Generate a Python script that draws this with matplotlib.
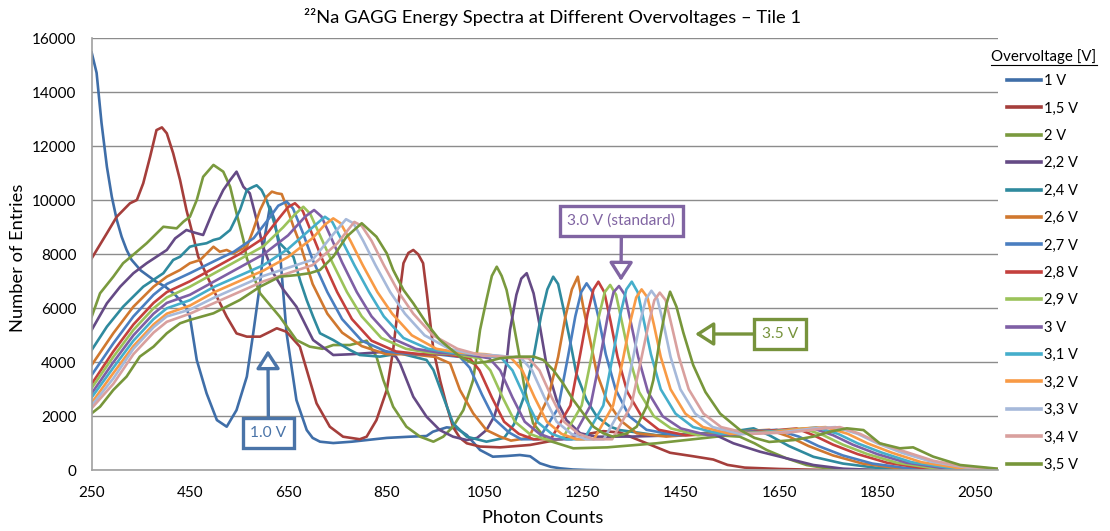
import matplotlib.pyplot as plt
from matplotlib.lines import Line2D

plt.rcParams['font.family'] = ['Lato', 'DejaVu Sans']

# ---- data (photon counts, number of entries) ----
x_10 = [250, 260, 270, 281, 291, 301, 311, 321, 331, 350, 380, 400, 420, 440, 450, 464, 484, 505, 525, 545,
        566, 579, 593, 603, 613, 622, 633, 647, 667, 688, 700, 715, 742, 780, 810, 851, 898, 932, 945, 973,
        993, 1014, 1041, 1067, 1095, 1122, 1143, 1163, 1185, 1204, 1230, 1258, 1300, 1400, 1530]
y_10 = [15470, 14720, 12870, 11240, 10130, 9280, 8650, 8170, 7800, 7400, 7000, 6800, 6500, 6100, 5690, 4085,
        2850, 1860, 1615, 2230, 3470, 5075, 6925, 8700, 9760, 9300, 8160, 5070, 2600, 1490, 1200, 1060, 1010,
        1060, 1120, 1200, 1245, 1270, 1430, 1590, 1555, 1307, 752, 504, 530, 567, 520, 260, 130, 74, 30, 11,
        0, 0, 0]

x_15 = [250, 281, 301, 328, 342, 355, 369, 382, 393, 403, 416, 430, 443, 457, 467, 498, 525, 545, 566, 593,
        613, 627, 647, 674, 688, 708, 735, 762, 796, 810, 830, 851, 864, 878, 885, 895, 905, 915, 925, 933,
        946, 960, 973, 986, 1000, 1014, 1041, 1082, 1143, 1190, 1231, 1292, 1326, 1394, 1428, 1475, 1516,
        1545, 1580, 1650, 1750, 1850, 2095]
y_15 = [7850, 8780, 9390, 9890, 10010, 10630, 11615, 12600, 12700, 12480, 11740, 10750, 9640, 8650, 7910,
        6680, 5690, 5070, 4950, 4950, 5130, 5260, 5130, 4580, 3715, 2480, 1615, 1245, 1150, 1245, 1860, 2975,
        4455, 6680, 7670, 8050, 8160, 8000, 7670, 6500, 4455, 3300, 2400, 1600, 1200, 1000, 880, 850, 940,
        1100, 1250, 1450, 1400, 900, 650, 520, 400, 200, 100, 50, 10, 0, 0]

x_20 = [250, 267, 294, 314, 328, 362, 396, 423, 437, 450, 464, 477, 498, 518, 532, 545, 559, 566, 593, 633,
        667, 694, 720, 742, 776, 810, 830, 844, 864, 891, 919, 946, 966, 986, 1007, 1027, 1041, 1054, 1065,
        1075, 1085, 1095, 1109, 1119, 1132, 1149, 1177, 1231, 1300, 1400, 1500, 1540, 1570, 1600, 1625,
        1665, 1706, 1747, 1800, 1900, 2095]
y_20 = [5690, 6555, 7170, 7670, 7880, 8410, 9020, 8960, 9210, 9390, 10010, 10870, 11310, 11060, 10500, 9520,
        8530, 7850, 6555, 5690, 4825, 4580, 4500, 4640, 4640, 4800, 4210, 3345, 2355, 1615, 1245, 1060, 1245,
        1615, 2230, 3345, 5200, 6310, 7200, 7540, 7200, 6680, 5445, 4455, 3000, 1740, 1120, 815, 850, 1000,
        1200, 1280, 1245, 1000, 750, 445, 196, 74, 20, 0, 0]

x_22 = [250, 281, 308, 335, 362, 403, 420, 443, 460, 477, 498, 518, 532, 545, 559, 572, 586, 599, 620, 640,
        667, 694, 701, 729, 742, 780, 820, 850, 870, 878, 905, 932, 959, 986, 1014, 1035, 1054, 1070, 1082,
        1095, 1102, 1115, 1125, 1136, 1150, 1163, 1177, 1197, 1217, 1245, 1279, 1350, 1450, 1510, 1557,
        1611, 1665, 1720, 1780, 1850, 1950, 2095]
y_22 = [5200, 6185, 6800, 7300, 7670, 8160, 8590, 8900, 8800, 8715, 9640, 10380, 10750, 11060, 10500, 10260,
        9270, 8280, 7300, 6700, 6060, 5075, 4825, 4455, 4270, 4300, 4350, 4400, 4200, 3960, 2725, 1985, 1490,
        1245, 1120, 1200, 1490, 2000, 2725, 4000, 5200, 6500, 7100, 7300, 6555, 5320, 3840, 2600, 1860, 1370,
        1245, 1250, 1300, 1400, 1000, 690, 445, 196, 60, 10, 0, 0]

x_24 = [250, 281, 314, 355, 396, 416, 430, 450, 464, 484, 498, 511, 532, 552, 566, 579, 586, 596, 606, 620,
        633, 661, 675, 688, 701, 715, 742, 776, 796, 837, 878, 932, 946, 966, 986, 1014, 1054, 1090, 1110,
        1130, 1150, 1165, 1178, 1190, 1200, 1210, 1224, 1237, 1258, 1279, 1306, 1326, 1400, 1480, 1560,
        1598, 1630, 1670, 1720, 1780, 1850, 1920, 2000, 2095]
y_24 = [4455, 5320, 6060, 6800, 7300, 7790, 7910, 8280, 8345, 8410, 8530, 8590, 8900, 9640, 10380, 10500,
        10555, 10380, 10010, 9270, 8410, 7900, 7000, 6300, 5690, 5075, 4825, 4455, 4270, 4210, 4330, 4085,
        3715, 2725, 1740, 1245, 1060, 1200, 1700, 2700, 4200, 5700, 6700, 7170, 6900, 6060, 4825, 3590, 2600,
        1985, 1615, 1490, 1300, 1350, 1450, 1555, 1300, 900, 500, 250, 90, 20, 0, 0]

x_26 = [250, 294, 335, 376, 403, 430, 450, 471, 498, 511, 525, 539, 552, 566, 579, 593, 606, 617, 627, 637,
        647, 661, 674, 700, 730, 760, 800, 850, 900, 950, 980, 1000, 1027, 1054, 1082, 1104, 1140, 1180,
        1200, 1215, 1228, 1240, 1251, 1265, 1279, 1299, 1326, 1360, 1420, 1500, 1580, 1630, 1670, 1710,
        1760, 1820, 1890, 1960, 2095]
y_26 = [3900, 5075, 6060, 6800, 7170, 7420, 7670, 7790, 8280, 8095, 8160, 8035, 8160, 8280, 8900, 9640,
        10130, 10320, 10260, 10230, 9760, 9020, 8410, 6900, 5800, 5100, 4600, 4300, 4300, 4200, 3960, 2975,
        2110, 1490, 1245, 1100, 1200, 2700, 4200, 5700, 6700, 7170, 6060, 4825, 3590, 2600, 1860, 1370, 1250,
        1350, 1450, 1500, 1250, 900, 550, 250, 80, 20, 0]

x_27 = [250, 294, 335, 376, 403, 450, 500, 540, 580, 610, 630, 647, 660, 680, 700, 730, 760, 800, 850, 900,
        950, 1000, 1020, 1045, 1070, 1100, 1125, 1160, 1200, 1220, 1235, 1247, 1258, 1270, 1283, 1297, 1317,
        1345, 1380, 1440, 1520, 1600, 1645, 1690, 1730, 1780, 1840, 1910, 1980, 2095]
y_27 = [3530, 4700, 5700, 6500, 6900, 7300, 7750, 8100, 8600, 9300, 9800, 9950, 9700, 8800, 7800, 6600,
        5600, 4800, 4400, 4300, 4300, 4200, 3800, 2800, 1900, 1400, 1150, 1150, 2300, 4200, 5700, 6600, 6925,
        6600, 5600, 4300, 3000, 2000, 1500, 1300, 1350, 1450, 1500, 1250, 900, 550, 250, 80, 20, 0]

x_28 = [250, 294, 335, 376, 403, 450, 500, 550, 600, 630, 650, 664, 680, 700, 720, 750, 780, 820, 870, 920,
        970, 1020, 1040, 1065, 1090, 1120, 1150, 1185, 1225, 1245, 1260, 1272, 1282, 1294, 1307, 1321, 1341,
        1370, 1405, 1460, 1540, 1620, 1686, 1720, 1760, 1810, 1870, 1940, 2010, 2095]
y_28 = [3200, 4400, 5400, 6200, 6600, 7000, 7500, 8000, 8600, 9300, 9750, 9890, 9600, 8700, 7800, 6600,
        5600, 4800, 4400, 4300, 4300, 4150, 3700, 2700, 1800, 1350, 1150, 1150, 2400, 4300, 5800, 6700, 6985,
        6600, 5500, 4200, 2900, 2000, 1500, 1300, 1350, 1450, 1550, 1300, 950, 600, 280, 90, 25, 0]

x_29 = [250, 294, 335, 376, 403, 450, 500, 550, 600, 640, 665, 681, 695, 715, 740, 770, 800, 840, 890, 940,
        990, 1040, 1062, 1087, 1112, 1142, 1172, 1208, 1248, 1268, 1283, 1295, 1306, 1318, 1331, 1345, 1365,
        1395, 1430, 1485, 1560, 1640, 1700, 1740, 1780, 1830, 1890, 1960, 2030, 2095]
y_29 = [3050, 4200, 5200, 6000, 6400, 6800, 7300, 7800, 8300, 9000, 9500, 9760, 9500, 8700, 7700, 6600,
        5700, 4900, 4500, 4350, 4300, 4150, 3700, 2700, 1800, 1350, 1150, 1150, 2400, 4200, 5700, 6600, 6865,
        6500, 5400, 4200, 2900, 2000, 1550, 1300, 1350, 1450, 1550, 1300, 950, 600, 280, 90, 25, 0]

x_30 = [250, 294, 335, 376, 403, 450, 500, 550, 600, 650, 685, 703, 718, 738, 760, 790, 820, 860, 910, 960,
        1010, 1060, 1082, 1107, 1132, 1162, 1192, 1228, 1266, 1286, 1301, 1313, 1324, 1336, 1349, 1363, 1383,
        1413, 1450, 1505, 1580, 1660, 1720, 1760, 1800, 1850, 1910, 1980, 2050, 2095]
y_30 = [2850, 4000, 5000, 5800, 6200, 6500, 7000, 7500, 8000, 8700, 9400, 9640, 9400, 8600, 7700, 6600,
        5700, 4900, 4500, 4350, 4300, 4150, 3700, 2700, 1800, 1350, 1150, 1150, 2400, 4200, 5700, 6600, 6825,
        6500, 5400, 4200, 2900, 2000, 1550, 1300, 1350, 1450, 1550, 1300, 950, 600, 280, 90, 25, 5]

x_31 = [250, 294, 335, 376, 403, 450, 500, 550, 600, 650, 700, 725, 740, 760, 785, 815, 845, 885, 935, 985,
        1035, 1085, 1107, 1132, 1157, 1187, 1217, 1253, 1292, 1312, 1327, 1339, 1350, 1362, 1375, 1389, 1409,
        1439, 1475, 1530, 1610, 1680, 1726, 1770, 1810, 1860, 1920, 1990, 2060, 2095]
y_31 = [2700, 3800, 4800, 5600, 6000, 6300, 6800, 7200, 7600, 8200, 9000, 9390, 9200, 8500, 7600, 6600,
        5700, 4900, 4500, 4350, 4300, 4150, 3700, 2700, 1800, 1350, 1150, 1150, 2400, 4300, 5800, 6700, 6985,
        6600, 5500, 4300, 3000, 2100, 1600, 1350, 1400, 1500, 1590, 1350, 1000, 650, 300, 110, 30, 10]

x_32 = [250, 294, 335, 376, 403, 450, 500, 550, 600, 650, 700, 725, 742, 757, 777, 802, 832, 862, 902, 952,
        1002, 1052, 1105, 1127, 1152, 1177, 1207, 1237, 1273, 1312, 1332, 1347, 1359, 1370, 1382, 1395, 1409,
        1429, 1459, 1495, 1550, 1630, 1700, 1745, 1790, 1830, 1880, 1940, 2010, 2095]
y_32 = [2500, 3600, 4600, 5400, 5800, 6100, 6600, 7000, 7400, 7900, 8600, 9100, 9330, 9150, 8500, 7600,
        6600, 5800, 5000, 4500, 4350, 4300, 4150, 3700, 2700, 1800, 1350, 1150, 1150, 2400, 4100, 5500, 6400,
        6700, 6400, 5400, 4200, 3000, 2100, 1600, 1350, 1400, 1550, 1600, 1350, 1000, 650, 300, 100, 20]

x_33 = [250, 294, 335, 376, 403, 450, 500, 550, 600, 650, 700, 740, 768, 783, 803, 828, 858, 888, 928, 978,
        1028, 1078, 1125, 1147, 1172, 1197, 1227, 1257, 1293, 1332, 1352, 1367, 1379, 1390, 1402, 1415, 1429,
        1449, 1479, 1515, 1570, 1650, 1720, 1765, 1810, 1850, 1900, 1960, 2030, 2095]
y_33 = [2400, 3400, 4500, 5300, 5700, 5950, 6400, 6800, 7200, 7500, 7800, 8700, 9300, 9150, 8500, 7600,
        6600, 5800, 5000, 4500, 4300, 4250, 4150, 3700, 2700, 1800, 1350, 1150, 1150, 2400, 4100, 5500, 6350,
        6650, 6350, 5400, 4200, 3000, 2100, 1600, 1350, 1400, 1550, 1600, 1350, 1000, 650, 320, 110, 30]

x_34 = [250, 294, 335, 376, 403, 450, 500, 550, 600, 650, 700, 750, 785, 800, 820, 845, 875, 905, 945, 995,
        1045, 1095, 1140, 1162, 1187, 1212, 1242, 1272, 1310, 1349, 1369, 1384, 1396, 1407, 1419, 1432, 1446,
        1466, 1496, 1532, 1590, 1670, 1740, 1774, 1815, 1855, 1905, 1965, 2030, 2095]
y_34 = [2300, 3200, 4300, 5100, 5500, 5800, 6200, 6600, 7000, 7300, 7600, 8400, 9200, 9050, 8500, 7600,
        6600, 5800, 5000, 4500, 4250, 4200, 4150, 3700, 2700, 1800, 1350, 1150, 1150, 2400, 4100, 5400, 6300,
        6580, 6300, 5300, 4200, 3000, 2100, 1600, 1350, 1400, 1550, 1600, 1350, 1000, 700, 350, 130, 50]

x_35 = [250, 267, 294, 321, 348, 376, 403, 430, 450, 498, 552, 593, 633, 667, 694, 715, 742, 769, 800, 830,
        851, 864, 885, 905, 932, 959, 1000, 1027, 1054, 1082, 1115, 1150, 1170, 1190, 1210, 1231, 1251, 1272,
        1292, 1312, 1340, 1360, 1380, 1394, 1407, 1421, 1428, 1441, 1455, 1475, 1500, 1530, 1570, 1600, 1630,
        1680, 1720, 1754, 1788, 1822, 1855, 1896, 1923, 1964, 2019, 2095]
y_35 = [2110, 2355, 2975, 3470, 4210, 4580, 5075, 5445, 5570, 5815, 6310, 6800, 7170, 7230, 7300, 7420, 7910,
        8650, 9150, 8650, 8035, 7420, 6680, 6185, 5445, 4825, 4210, 3960, 4020, 4150, 4210, 4210, 4085, 3715,
        3220, 2600, 2110, 1615, 1370, 1245, 1370, 1615, 2355, 3345, 4825, 6185, 6615, 6060, 5100, 3900, 2900,
        2100, 1500, 1200, 1050, 1120, 1250, 1430, 1555, 1490, 1000, 815, 850, 505, 196, 60]

labels = ['1 V', '1,5 V', '2 V', '2,2 V', '2,4 V', '2,6 V', '2,7 V', '2,8 V',
          '2,9 V', '3 V', '3,1 V', '3,2 V', '3,3 V', '3,4 V', '3,5 V']
xs = [x_10, x_15, x_20, x_22, x_24, x_26, x_27, x_28, x_29, x_30, x_31, x_32, x_33, x_34, x_35]
ys = [y_10, y_15, y_20, y_22, y_24, y_26, y_27, y_28, y_29, y_30, y_31, y_32, y_33, y_34, y_35]
colors = ['#3F6EA8', '#A53E3B', '#7A9A3E', '#654A85', '#2F8A9E', '#D0782F', '#4A7EC0', '#C4403D',
          '#9BC35A', '#7F5FA5', '#45AECB', '#F89A45', '#A6B9DA', '#D9A09E', '#77963A']

fig = plt.figure(figsize=(11.1, 5.31), dpi=100)
ax = fig.add_axes([0.0826, 0.1143, 0.8161, 0.8136])

for x, y, c, lab in zip(xs, ys, colors, labels):
    ax.plot(x, y, color=c, lw=1.9, label=lab, solid_joinstyle='round')

ax.set_xlim(250, 2095)
ax.set_ylim(0, 16000)
ax.set_xticks(range(250, 2051, 200))
ax.set_yticks(range(0, 16001, 2000))
ax.grid(axis='y', color='#8C8C8C', lw=1)
ax.set_axisbelow(True)
for s in ['top', 'right']:
    ax.spines[s].set_visible(False)
for s in ['left', 'bottom']:
    ax.spines[s].set_color('#A0A0A0')
    ax.spines[s].set_linewidth(1.2)
ax.tick_params(length=0, labelsize=11, colors='#000000')
ax.tick_params(axis='y', pad=11)
ax.tick_params(axis='x', pad=11)

fig.text(552 / 1110, 1 - 17 / 531, '²²Na GAGG Energy Spectra at Different Overvoltages – Tile 1',
         ha='center', va='center', fontsize=13.2)
fig.text(543 / 1110, 1 - 518 / 531, 'Photon Counts', ha='center', va='center', fontsize=13.2)
fig.text(18 / 1110, 1 - 258 / 531, 'Number of Entries', ha='center', va='center',
         rotation=90, fontsize=13.2)

# legend
leg = fig.legend(loc='upper left', bbox_to_anchor=(1007 / 1110, 1 - 74 / 531), frameon=False,
                 fontsize=10.5, handlelength=2.3, handletextpad=0.25, labelspacing=0.92,
                 borderpad=0, borderaxespad=0)
for h in leg.get_lines():
    h.set_linewidth(2.6)
fig.text(991 / 1110, 1 - 57 / 531, 'Overvoltage [V]', ha='left', va='center', fontsize=10.8)
fig.add_artist(Line2D([991 / 1110, 1097 / 1110], [1 - 65 / 531] * 2, color='black', lw=0.8,
                      transform=fig.transFigure))

# callouts
def callout(txt, xy, xytext, c):
    ax.annotate(txt, xy=xy, xytext=xytext, ha='center', va='center', fontsize=11.2, color=c,
                bbox=dict(boxstyle='square,pad=0.5', fc='white', ec=c, lw=2.4),
                arrowprops=dict(arrowstyle='-|>,head_length=0.7,head_width=0.45', fc='white', ec=c,
                                lw=2.4, shrinkA=0, shrinkB=0, mutation_scale=16))

callout('1.0 V', (609, 4455), (610, 1381), '#4A74A8')
callout('3.0 V (standard)', (1328, 7011), (1329, 9233), '#8064A2')
callout('3.5 V', (1479, 5048), (1652, 5048), '#77933C')

fig.savefig('out.png', dpi=100)
